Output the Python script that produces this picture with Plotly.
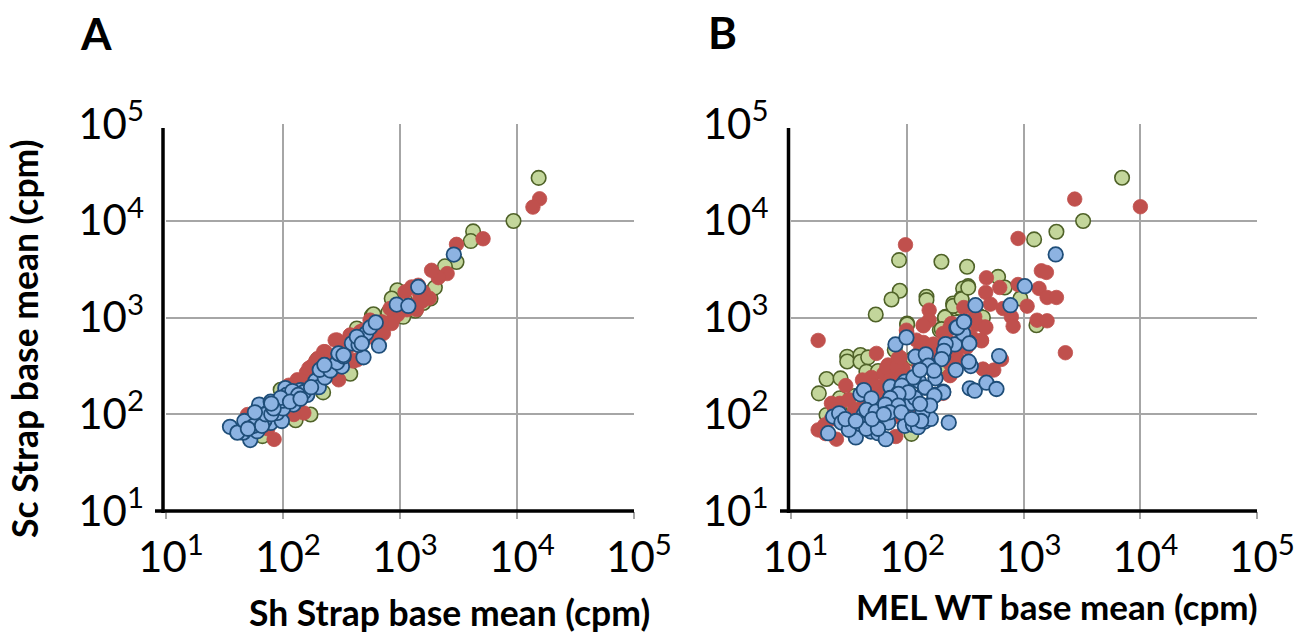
import plotly.graph_objects as go

a_green_x = [4.185,3.97,3.625,3.605,3.483,3.384,3.261,3.298,3.13,3.04,2.977,2.929,2.76,3.028,2.773,2.631,2.575,2.343,2.292,2.235,2.108,1.98,1.824,2.45,2.52,2.68,2.85,2.9,3.1,3.2,1.75,1.9,2.05,2.2]
a_green_y = [4.443,3.997,3.89,3.79,3.574,3.529,3.196,3.309,3.07,3.18,3.282,3.196,3.02,3.007,3.034,2.887,2.418,2.226,2.562,1.997,1.938,2.253,1.774,2.55,2.62,2.78,2.9,3.05,3.12,3.15,1.84,2.0,2.15,2.3]
a_red_x = [4.193,4.136,3.71,3.483,3.403,3.327,3.27,3.17,3.19,3.06,3.12,2.98,3.25,2.94,2.85,2.77,3.156,3.1,3.043,3.199,3.142,2.915,2.929,2.844,2.815,2.744,2.659,2.574,2.446,2.361,3.184,2.858,2.688,2.632,2.575,2.476,2.462,2.348,2.221,2.122,2.178,2.093,1.924,1.697,1.8,1.9,2.0,2.05,2.2,2.28,2.4,2.55,2.65,2.75,1.87,1.95,2.3,2.6,1.85,2.05,2.15,2.25,2.3,2.4]
a_red_y = [4.227,4.141,3.814,3.756,3.454,3.412,3.488,3.23,3.17,3.08,3.13,3.03,3.2,2.98,2.89,2.81,3.333,3.316,3.265,3.265,3.082,3.093,2.938,2.955,2.818,2.973,2.852,2.818,2.766,2.646,3.18,2.836,2.87,2.562,2.818,2.356,2.767,2.647,2.476,2.356,2.014,1.997,1.74,1.997,2.0,2.1,2.2,2.3,2.43,2.55,2.6,2.68,2.75,2.8,1.85,2.0,2.38,2.55,1.9,2.25,2.35,2.5,2.58,2.55]
a_blue_x = [1.547,1.72,1.66,1.61,1.725,1.67,1.796,1.895,1.96,1.895,1.99,1.84,1.78,1.81,1.867,1.95,2.02,2.12,2.05,2.09,2.207,2.15,2.278,2.306,2.357,2.314,2.405,2.504,2.462,2.354,2.476,2.518,2.688,2.589,2.646,2.674,2.711,2.745,2.793,2.82,2.972,3.071,3.156,3.46,2.0,2.1,2.18,2.24,2.631,2.673,2.474,2.517,1.75,1.82,1.85,1.9,1.7,2.0,2.03,2.08,2.13,1.98,2.06,2.15,1.92,1.76,1.9]
a_blue_y = [1.87,1.733,1.81,1.81,1.877,1.93,2.1,2.13,2.1,1.91,1.93,1.93,1.825,1.945,2.014,2.014,2.27,2.17,2.17,2.1,2.2,2.25,2.346,2.28,2.38,2.46,2.452,2.493,2.534,2.51,2.623,2.596,2.589,2.733,2.716,2.75,2.836,2.897,2.949,2.709,3.134,3.12,3.316,3.65,2.06,2.2,2.23,2.28,2.8,2.732,2.629,2.612,1.88,1.88,2.0,2.0,1.85,2.14,2.2,2.24,2.2,2.17,2.13,2.16,2.06,2.02,2.11]

b_green_x = [3.843,3.509,3.28,3.089,1.931,2.294,2.514,1.937,1.866,1.731,2.166,2.523,2.48,2.78,2.837,2.971,2.466,2.394,2.409,2.609,2.323,2.0,3.109,2.0,2.166,2.329,1.486,1.486,1.6,1.6,1.666,1.309,1.429,1.243,1.423,1.551,1.531,1.309,1.651,1.751,2.037,1.894,2.051,2.28,2.3,2.2,2.45,2.65,2.325,2.296,2.396,2.467,2.524]
b_green_y = [4.445,3.997,3.886,3.807,3.593,3.576,3.524,3.276,3.186,3.031,3.214,3.324,3.3,3.42,3.31,3.197,3.197,3.145,3.093,3.024,2.99,2.938,2.92,2.928,3.18,3.007,2.595,2.545,2.612,2.543,2.588,2.364,2.371,2.216,2.165,2.189,2.096,1.993,2.44,2.447,1.797,2.663,2.577,2.87,2.5,2.62,3.1,3.0,3.0,2.88,3.12,3.189,3.309]
b_red_x = [3.437,4.0,2.951,1.986,2.68,2.794,2.951,3.151,3.194,3.131,3.2,3.28,3.029,2.674,2.714,2.823,2.894,3.114,3.2,2.909,2.189,2.189,2.137,2.486,1.994,2.666,3.357,1.237,1.737,1.474,2.309,2.38,2.58,2.637,2.651,2.743,2.809,2.366,2.423,1.837,1.923,1.966,1.88,1.694,1.617,1.766,1.623,1.351,1.423,1.237,1.294,1.394,1.903,1.894,1.994,2.309,2.366,2.08,2.137,2.25,2.3,2.45,2.55,1.38,1.7,1.8,2.1,2.2,
           2.14,1.997,2.14,2.368,2.595,2.675,2.638,2.442,2.368,1.826,1.912,2.225,2.339,2.481,2.51,2.254,2.111,1.94,1.5,1.55,1.45,1.65,1.75,1.7,1.85,1.95,1.35,2.05,2.25,1.3,1.85]
b_red_y = [4.224,4.145,3.817,3.752,3.41,3.31,3.341,3.483,3.466,3.3,3.207,3.207,3.117,3.259,3.138,3.093,3.007,2.972,2.966,2.91,3.076,2.972,2.921,3.103,2.869,2.903,2.636,2.763,2.629,2.296,2.835,2.938,3.007,2.766,2.467,2.457,2.567,2.405,2.595,2.509,2.577,2.474,2.44,2.381,2.354,2.285,2.079,2.113,2.113,1.838,1.89,1.742,1.77,1.976,2.01,2.216,2.526,2.766,2.732,2.7,2.6,2.75,2.8,2.05,2.3,2.42,2.5,2.65,
           2.914,2.845,2.742,2.897,2.931,2.897,2.759,2.553,2.399,2.485,2.485,2.725,2.777,2.897,2.69,2.588,2.656,2.588,2.15,2.05,1.95,2.15,2.2,2.3,2.35,2.4,1.95,2.05,2.2,1.8,2.1]
b_blue_x = [1.323,1.366,1.417,1.437,1.531,1.56,1.629,1.6,1.629,1.694,1.651,1.731,1.737,1.689,1.751,1.817,1.837,1.817,1.857,1.857,1.923,1.923,1.98,1.951,2.009,2.066,2.037,1.98,2.051,2.094,2.151,2.203,2.131,2.194,2.237,2.309,2.151,2.1,2.057,2.109,2.243,2.223,2.189,2.071,2.16,1.9,1.994,2.357,2.417,2.537,2.58,2.68,2.766,2.546,2.529,2.789,2.309,2.323,2.409,2.531,2.48,2.423,2.489,2.586,2.886,3.274,3.009,
            2.054,1.954,2.154,2.31,2.234,2.068,2.011,1.926,1.855,1.812,1.926,2.197,2.111,2.33,2.316,2.296,2.533,2.43,2.487,2.182,2.231,2.111,1.5,1.6,1.65,1.75,1.7,1.85,1.95,2.12,2.04,1.8,1.47,1.56]
b_blue_y = [1.804,1.976,2.01,1.914,1.9,1.76,2.0,2.206,2.25,2.165,2.045,2.027,1.924,1.821,1.804,1.742,1.914,2.107,2.172,2.285,2.089,2.216,2.337,2.285,2.223,2.172,2.113,1.88,1.89,1.866,1.924,1.952,2.01,2.096,2.2,2.234,2.275,2.344,2.381,2.464,2.371,2.457,2.509,2.595,2.619,2.722,2.794,1.914,2.457,2.268,2.244,2.326,2.261,2.498,2.543,2.601,2.595,2.67,2.722,2.739,2.835,2.893,2.955,3.127,3.127,3.652,3.324,
            2.381,2.296,2.278,2.227,2.192,2.168,2.227,2.21,2.168,2.1,2.09,2.09,2.107,2.725,2.656,2.57,2.732,2.897,2.955,2.502,2.45,2.457,1.84,1.9,1.85,1.85,1.95,2.02,2.02,1.93,1.95,2.0,1.95,1.93]

tick_vals = [10, 100, 1000, 10000, 100000]
tick_text = ["10<sup>1</sup>", "10<sup>2</sup>", "10<sup>3</sup>", "10<sup>4</sup>", "10<sup>5</sup>"]
x_title_a = "Sh Strap base mean (cpm)"
x_title_b = "MEL WT base mean (cpm)"
y_title = "Sc Strap base mean (cpm)"

W, H = 1313, 634
FONT = "Lato"

def pw(px): return px / W
def ph(py): return 1 - py / H

fig = go.Figure()

def pct(arr): return [10 ** v for v in arr]

def add(xs, ys, fill, line, lw, ax, ay):
    fig.add_trace(go.Scatter(x=pct(xs), y=pct(ys), mode="markers", xaxis=ax, yaxis=ay,
                             showlegend=False,
                             marker=dict(size=14.5, color=fill, line=dict(color=line, width=lw))))

add(a_green_x, a_green_y, "#C3D69B", "#4F6228", 1.6, "x", "y")
add(a_red_x, a_red_y, "#C0504D", "#C0504D", 0.8, "x", "y")
add(a_blue_x, a_blue_y, "#8DB3E2", "#1F4E79", 1.8, "x", "y")
add(b_green_x, b_green_y, "#C3D69B", "#4F6228", 1.6, "x2", "y2")
add(b_red_x, b_red_y, "#C0504D", "#C0504D", 0.8, "x2", "y2")
add(b_blue_x, b_blue_y, "#8DB3E2", "#1F4E79", 1.8, "x2", "y2")

def xax(dom):
    return dict(type="log", range=[1, 5], domain=dom, tickmode="array", tickvals=tick_vals,
                ticktext=tick_text, ticks="outside", ticklen=7, tickcolor="#A6A6A6", tickwidth=1.5,
                showgrid=True, gridcolor="#A6A6A6", gridwidth=1.5, zeroline=False, showline=False,
                automargin=False, ticklabelshift=5, ticklabelstandoff=3,
                tickfont=dict(family=FONT, size=42, color="black"))

def yax(dom, anchor):
    return dict(type="log", range=[1, 5], domain=dom, tickmode="array", tickvals=tick_vals,
                ticktext=tick_text, ticks="", anchor=anchor,
                showgrid=True, gridcolor="#A6A6A6", gridwidth=1.5, zeroline=False, showline=False,
                automargin=False, ticklabelstandoff=21,
                tickfont=dict(family=FONT, size=42, color="black"))

dom_y = [ph(511), ph(124)]
fig.update_layout(
    width=W, height=H, margin=dict(l=0, r=0, t=0, b=0, pad=0), paper_bgcolor="white", plot_bgcolor="white",
    xaxis=xax([pw(166), pw(634)]), yaxis=yax(dom_y, "x"),
    xaxis2=xax([pw(790.5), pw(1257)]), yaxis2=yax(dom_y, "x2"),
)
fig.layout.xaxis2.anchor = "y2"

for x0, y0, x1, y1 in [(163, 128, 163, 513), (155, 511, 634, 511), (788.5, 128, 788.5, 513), (780, 511, 1257, 511)]:
    fig.add_shape(type="line", xref="paper", yref="paper", x0=pw(x0), y0=ph(y0), x1=pw(x1), y1=ph(y1),
                  line=dict(color="black", width=3.5))

def note(text, px, py, size, angle=0):
    fig.add_annotation(text=text, xref="paper", yref="paper", x=pw(px), y=ph(py), showarrow=False,
                       textangle=angle, xanchor="center", yanchor="middle",
                       font=dict(family=FONT, size=size, color="black"))

note("<b>A</b>", 96, 33, 44)
note("<b>B</b>", 722, 32, 44)
note("<b>" + y_title + "</b>", 24, 339, 35.5, -90)
note("<b>" + x_title_a + "</b>", 449, 612, 35.5)
note("<b>" + x_title_b + "</b>", 1057, 606, 35)

fig.write_html("out.html", config={"displayModeBar": False}, post_script="document.body.style.margin='0';")
